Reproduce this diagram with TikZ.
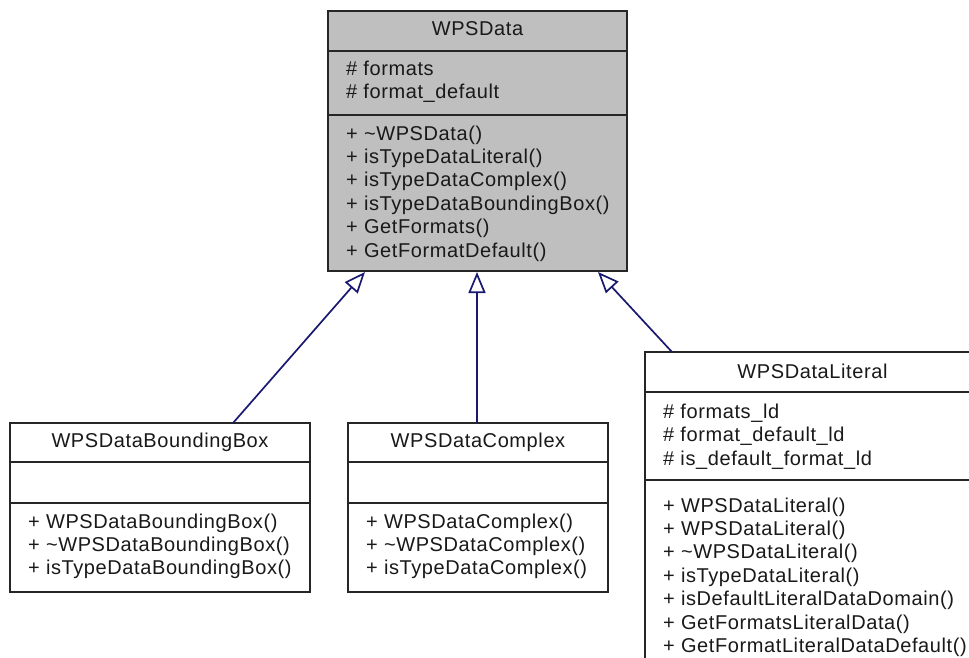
\documentclass[tikz,border=0pt]{standalone}
\usepackage{fontspec}
\setmainfont[LetterSpace=3]{Liberation Sans}
\usetikzlibrary{arrows.meta}
\definecolor{edgeblue}{HTML}{191970}
\definecolor{basefill}{HTML}{BFBFBF}
\begin{document}
\begin{tikzpicture}[x=1pt,y=-1pt,
  classbox/.style={draw=black!85, line width=1.9pt, inner sep=0pt, outer sep=0pt},
  divider/.style={draw=black!85, line width=1.9pt},
  member/.style={anchor=base west, inner sep=0pt, font=\fontsize{20}{24}\selectfont, text=black!90},
  classtitle/.style={anchor=base, inner sep=0pt, font=\fontsize{20}{24}\selectfont, text=black!90},
  inherit/.style={draw=edgeblue, line width=1.7pt, {Triangle[length=21pt,width=17pt,fill=white]}-},
]
\useasboundingbox (0,0) rectangle (969,657);
\begin{scope}
\clip (0,0) rectangle (969,657);

% base class
\node[classbox, fill=basefill, minimum width=299pt, minimum height=260pt] (wpsdata) at (477.5,141) {};
\draw[divider] (wpsdata.west |- 0,51) -- (wpsdata.east |- 0,51);
\draw[divider] (wpsdata.west |- 0,115) -- (wpsdata.east |- 0,115);
\node[classtitle] (wpsdata-name) at (477.5,35) {WPSData};
\node[member] (wpsdata-a1) at (346,75) {\# formats};
\node[member] (wpsdata-a2) at (346,98) {\# format\_default};
\foreach \txt [count=\i] in {{+ \textasciitilde WPSData()},{+ isTypeDataLiteral()},{+ isTypeDataComplex()},{+ isTypeDataBoundingBox()},{+ GetFormats()},{+ GetFormatDefault()}}
  \node[member] (wpsdata-m\i) at (346,{140+23.4*(\i-1)}) {\txt};

% WPSDataBoundingBox
\node[classbox, fill=white, minimum width=300pt, minimum height=169pt] (bbox) at (160,507.5) {};
\draw[divider] (bbox.west |- 0,462) -- (bbox.east |- 0,462);
\draw[divider] (bbox.west |- 0,503) -- (bbox.east |- 0,503);
\node[classtitle] (bbox-name) at (160,447) {WPSDataBoundingBox};
\foreach \txt [count=\i] in {{+ WPSDataBoundingBox()},{+ \textasciitilde WPSDataBoundingBox()},{+ isTypeDataBoundingBox()}}
  \node[member] (bbox-m\i) at (28,{528+23.4*(\i-1)}) {\txt};

% WPSDataComplex
\node[classbox, fill=white, minimum width=260pt, minimum height=169pt] (complex) at (478,507.5) {};
\draw[divider] (complex.west |- 0,462) -- (complex.east |- 0,462);
\draw[divider] (complex.west |- 0,503) -- (complex.east |- 0,503);
\node[classtitle] (complex-name) at (478,447) {WPSDataComplex};
\foreach \txt [count=\i] in {{+ WPSDataComplex()},{+ \textasciitilde WPSDataComplex()},{+ isTypeDataComplex()}}
  \node[member] (complex-m\i) at (366,{528+23.4*(\i-1)}) {\txt};

% WPSDataLiteral
\node[classbox, fill=white, minimum width=335pt, minimum height=313pt] (literal) at (812.5,508.5) {};
\draw[divider] (literal.west |- 0,392) -- (literal.east |- 0,392);
\draw[divider] (literal.west |- 0,480) -- (literal.east |- 0,480);
\node[classtitle] (literal-name) at (812.5,378) {WPSDataLiteral};
\foreach \txt [count=\i] in {{\# formats\_ld},{\# format\_default\_ld},{\# is\_default\_format\_ld}}
  \node[member] (literal-a\i) at (663,{418+23.5*(\i-1)}) {\txt};
\foreach \txt [count=\i] in {{+ WPSDataLiteral()},{+ WPSDataLiteral()},{+ \textasciitilde WPSDataLiteral()},{+ isTypeDataLiteral()},{+ isDefaultLiteralDataDomain()},{+ GetFormatsLiteralData()},{+ GetFormatLiteralDataDefault()}}
  \node[member] (literal-m\i) at (663,{512+23.4*(\i-1)}) {\txt};

% inheritance connectors
\coordinate (up-bbox) at (365,272);
\coordinate (up-complex) at (477,272);
\coordinate (up-literal) at (598,272);
\coordinate (top-bbox) at (233,423);
\coordinate (top-complex) at (477,423);
\coordinate (top-literal) at (672,352);
\draw[inherit] (up-bbox) -- (top-bbox);
\draw[inherit] (up-complex) -- (top-complex);
\draw[inherit] (up-literal) -- (top-literal);
\end{scope}
\end{tikzpicture}
\end{document}
